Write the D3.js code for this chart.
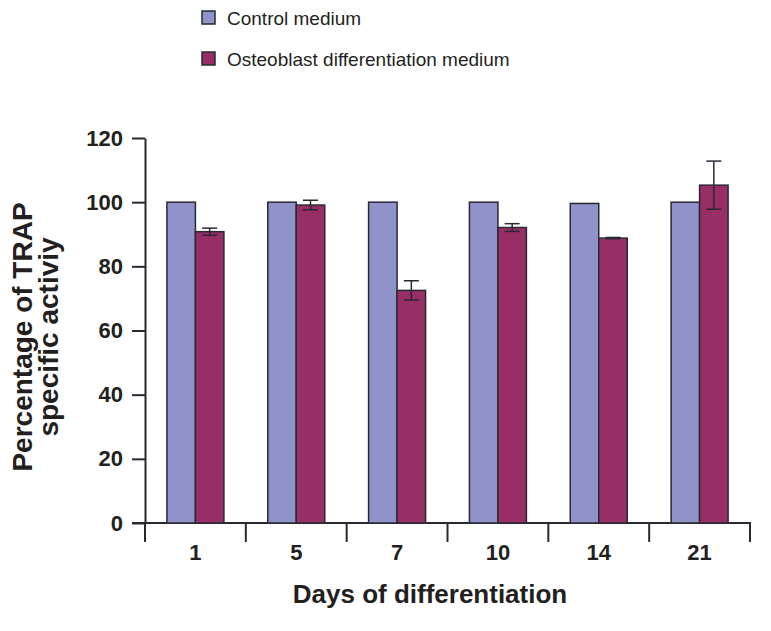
<!DOCTYPE html>
<html>
<head>
<meta charset="utf-8">
<script src="https://cdn.jsdelivr.net/npm/d3@7"></script>
<style>
  html, body { margin: 0; padding: 0; background: #fff; }
  svg { display: block; font-family: "Liberation Sans", Arial, Helvetica, sans-serif; }
</style>
</head>
<body>
<svg id="chart" width="771" height="631"></svg>
<script>
const days = ["1", "5", "7", "10", "14", "21"];
const seriesNames = ["Control medium", "Osteoblast differentiation medium"];
const controlValues = [100, 100, 100, 100, 99.6, 100];
const osteoValues = [90.8, 99.1, 72.5, 92.1, 88.8, 105.3];
const osteoErrors = [1.1, 1.5, 3.0, 1.2, 0.2, 7.5];
const yTicks = [0, 20, 40, 60, 80, 100, 120];
const colors = ["#8f93c9", "#982e66"];
const strokeColor = "#2b2833";

const svg = d3.select("#chart");

const x = d3.scaleBand().domain(days).range([145, 750]).paddingInner(0).paddingOuter(0);
const y = d3.scaleLinear().domain([0, 120]).range([523, 138]);
const barW = 28.5;

// Y axis
const yAxis = d3.axisLeft(y).tickValues(yTicks).tickSize(13).tickPadding(9).tickSizeOuter(0);
const yg = svg.append("g").attr("transform", "translate(145,0)").call(yAxis);
yg.attr("font-size", 22).attr("font-family", "Liberation Sans, Arial, sans-serif");
yg.select(".domain").attr("stroke", strokeColor).attr("stroke-width", 2);
yg.selectAll(".tick line").attr("stroke", strokeColor).attr("stroke-width", 2);
yg.selectAll(".tick text").attr("font-size", 22).attr("font-weight", "bold").attr("fill", "#231f20");

// X axis baseline
svg.append("line").attr("x1", 132).attr("x2", 751).attr("y1", y(0)).attr("y2", y(0))
  .attr("stroke", strokeColor).attr("stroke-width", 2);

// Separator ticks between groups
const seps = days.map(d => x(d)).concat([x(days[days.length - 1]) + x.bandwidth()]);
svg.selectAll("line.sep").data(seps).enter().append("line").attr("class", "sep")
  .attr("x1", d => d).attr("x2", d => d).attr("y1", y(0)).attr("y2", y(0) + 19)
  .attr("stroke", strokeColor).attr("stroke-width", 2);

// X labels
svg.selectAll("text.xl").data(days).enter().append("text").attr("class", "xl")
  .attr("x", d => x(d) + x.bandwidth() / 2).attr("y", 560)
  .attr("text-anchor", "middle").attr("font-size", 22).attr("font-weight", "bold").attr("fill", "#231f20")
  .text(d => d);

// Bars
const groups = svg.selectAll("g.grp").data(days).enter().append("g").attr("class", "grp")
  .attr("transform", d => `translate(${x(d) + x.bandwidth() / 2},0)`);

groups.append("rect")
  .attr("x", -barW).attr("width", barW)
  .attr("y", (d, i) => y(controlValues[i])).attr("height", (d, i) => y(0) - y(controlValues[i]))
  .attr("fill", colors[0]).attr("stroke", strokeColor).attr("stroke-width", 1.5);

groups.append("rect")
  .attr("x", 0).attr("width", barW)
  .attr("y", (d, i) => y(osteoValues[i])).attr("height", (d, i) => y(0) - y(osteoValues[i]))
  .attr("fill", colors[1]).attr("stroke", strokeColor).attr("stroke-width", 1.5);

// Error bars
const capW = 15;
groups.each(function(d, i) {
  const g = d3.select(this);
  const cx = barW / 2;
  const top = y(osteoValues[i] + osteoErrors[i]);
  const bot = y(osteoValues[i] - osteoErrors[i]);
  g.append("line").attr("x1", cx).attr("x2", cx).attr("y1", top).attr("y2", bot)
    .attr("stroke", strokeColor).attr("stroke-width", 1.5);
  [top, bot].forEach(yy => {
    g.append("line").attr("x1", cx - capW / 2).attr("x2", cx + capW / 2).attr("y1", yy).attr("y2", yy)
      .attr("stroke", strokeColor).attr("stroke-width", 1.5);
  });
});

// Axis titles
svg.append("text").attr("x", 430).attr("y", 603).attr("text-anchor", "middle")
  .attr("font-size", 26).attr("font-weight", "bold").attr("fill", "#231f20")
  .text("Days of differentiation");

const yt = svg.append("text").attr("transform", "translate(0,337) rotate(-90)")
  .attr("text-anchor", "middle").attr("font-size", 28).attr("font-weight", "bold").attr("fill", "#231f20");
yt.append("tspan").attr("x", 0).attr("y", 32).text("Percentage of TRAP");
yt.append("tspan").attr("x", 0).attr("y", 58).text("specific activiy");

// Legend
const legend = svg.selectAll("g.leg").data(seriesNames).enter().append("g").attr("class", "leg")
  .attr("transform", (d, i) => `translate(202,${11 + i * 41})`);
legend.append("rect").attr("width", 13).attr("height", 13)
  .attr("fill", (d, i) => colors[i]).attr("stroke", strokeColor).attr("stroke-width", 1.5);
legend.append("text").attr("x", 25).attr("y", 13.5).attr("font-size", 19).attr("fill", "#231f20")
  .text(d => d);
</script>
</body>
</html>
